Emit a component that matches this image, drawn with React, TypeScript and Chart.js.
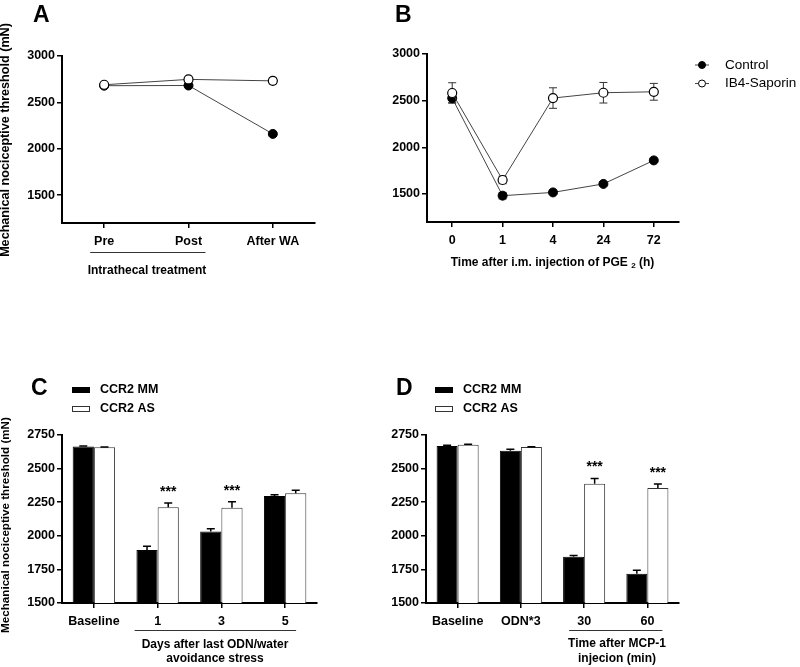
import React, { useEffect, useRef } from "react";
import { Chart, registerables } from "chart.js";

Chart.register(...registerables);

const FONT = "'Liberation Sans', Arial, Helvetica, sans-serif";

// ---------- Panel A ----------
const A_CATEGORIES = ["Pre", "Post", "After WA"];
const A_CONTROL = [2680, 2682, 2160];
const A_CONTROL_ERR = [12, 15, 20];
const A_IB4 = [2690, 2748, 2732];
const A_IB4_ERR = [12, 10, 30];
const A_YTICKS = [1500, 2000, 2500, 3000];

// ---------- Panel B ----------
const B_CATEGORIES = ["0", "1", "4", "24", "72"];
const B_CONTROL = [2527, 1482, 1517, 1608, 1860];
const B_CONTROL_ERR = [45, 35, 15, 15, 15];
const B_IB4 = [2582, 1650, 2528, 2585, 2595];
const B_IB4_ERR = [110, 40, 110, 110, 90];
const B_YTICKS = [1500, 2000, 2500, 3000];

// ---------- Panel C ----------
const C_CATEGORIES = ["Baseline", "1", "3", "5"];
const C_MM = [2665, 1895, 2032, 2296];
const C_MM_ERR = [3, 27, 20, 10];
const C_AS = [2658, 2212, 2208, 2316];
const C_AS_ERR = [3, 32, 45, 22];
const C_SIG = ["", "***", "***", ""];
const CD_YTICKS = [1500, 1750, 2000, 2250, 2500, 2750];

// ---------- Panel D ----------
const D_CATEGORIES = ["Baseline", "ODN*3", "30", "60"];
const D_MM = [2668, 2632, 1845, 1718];
const D_MM_ERR = [5, 12, 8, 25];
const D_AS = [2678, 2660, 2387, 2355];
const D_AS_ERR = [3, 3, 40, 30];
const D_SIG = ["", "", "***", "***"];

const LEGEND_LINE = ["Control", "IB4-Saporin"];
const LEGEND_BAR = ["CCR2 MM", "CCR2 AS"];
const Y_TITLE = "Mechanical nociceptive threshold (mN)";

const TICK_FONT = { family: FONT, size: 12.5, weight: "bold" };

function yAxis(min: number, max: number, ticksList: number[], width: number) {
  return {
    type: "linear",
    min,
    max,
    afterBuildTicks: (s: any) => {
      s.ticks = ticksList.map((v) => ({ value: v }));
    },
    afterFit: (s: any) => {
      s.width = width;
    },
    ticks: { color: "#000", font: TICK_FONT, padding: 2, callback: (v: any) => String(v) },
    grid: {
      display: true,
      drawOnChartArea: false,
      drawTicks: true,
      tickLength: 5,
      color: "#000",
      lineWidth: 1.5,
    },
    border: { display: true, color: "#000", width: 2 },
  };
}

function xAxis(height: number) {
  return {
    type: "category",
    offset: true,
    afterFit: (s: any) => {
      s.height = height;
    },
    ticks: {
      color: "#000",
      font: TICK_FONT,
      padding: 6,
      maxRotation: 0,
      autoSkip: false,
    },
    grid: {
      display: true,
      offset: false,
      drawOnChartArea: false,
      drawTicks: true,
      tickLength: 5,
      color: "#000",
      lineWidth: 1.5,
    },
    border: { display: true, color: "#000", width: 2 },
  };
}

function errorBarPlugin(errs: (number[] | null)[], upOnly: boolean, before: boolean, color: string, lw: number) {
  const draw = (chart: any) => {
    const ctx = chart.ctx;
    const y = chart.scales.y;
    ctx.save();
    ctx.strokeStyle = color;
    ctx.lineWidth = lw;
    errs.forEach((e, i) => {
      if (!e) return;
      const meta = chart.getDatasetMeta(i);
      const data = chart.data.datasets[i].data as number[];
      meta.data.forEach((el: any, j: number) => {
        const v = data[j];
        const x = el.x;
        const yTop = y.getPixelForValue(v + e[j]);
        const yBot = upOnly ? y.getPixelForValue(v) : y.getPixelForValue(v - e[j]);
        ctx.beginPath();
        ctx.moveTo(x, yTop);
        ctx.lineTo(x, yBot);
        ctx.moveTo(x - 4, yTop);
        ctx.lineTo(x + 4, yTop);
        if (!upOnly) {
          ctx.moveTo(x - 4, yBot);
          ctx.lineTo(x + 4, yBot);
        }
        ctx.stroke();
      });
    });
    ctx.restore();
  };
  return before
    ? { id: "errbars", beforeDatasetsDraw: draw }
    : { id: "errbars", afterDatasetsDraw: draw };
}

function overlay(draw: (chart: any, ctx: CanvasRenderingContext2D) => void) {
  return {
    id: "overlay",
    afterDraw(chart: any) {
      const ctx = chart.ctx as CanvasRenderingContext2D;
      ctx.save();
      draw(chart, ctx);
      ctx.restore();
    },
  };
}

function text(ctx: CanvasRenderingContext2D, s: string, x: number, y: number, size: number, bold: boolean, align: CanvasTextAlign = "left", baseline: CanvasTextBaseline = "middle") {
  ctx.font = `${bold ? "bold " : ""}${size}px ${FONT}`;
  ctx.fillStyle = "#000";
  ctx.textAlign = align;
  ctx.textBaseline = baseline;
  ctx.fillText(s, x, y);
}

function rotatedTitle(ctx: CanvasRenderingContext2D, s: string, cx: number, cy: number, target: number) {
  ctx.save();
  ctx.translate(cx, cy);
  ctx.rotate(-Math.PI / 2);
  ctx.font = `bold 12px ${FONT}`;
  const w = ctx.measureText(s).width;
  const size = (12 * target) / w;
  ctx.font = `bold ${size}px ${FONT}`;
  ctx.fillStyle = "#000";
  ctx.textAlign = "center";
  ctx.textBaseline = "middle";
  ctx.fillText(s, 0, 0);
  ctx.restore();
}

function hline(ctx: CanvasRenderingContext2D, x1: number, x2: number, y: number) {
  ctx.strokeStyle = "#333";
  ctx.lineWidth = 1;
  ctx.beginPath();
  ctx.moveTo(x1, y + 0.5);
  ctx.lineTo(x2, y + 0.5);
  ctx.stroke();
}

const baseOptions = (padding: any, scales: any) => ({
  responsive: false,
  animation: false,
  devicePixelRatio: 1,
  events: [],
  layout: { padding },
  plugins: { legend: { display: false }, tooltip: { enabled: false }, title: { display: false } },
  scales,
});

function lineDatasets(control: number[], ib4: number[]) {
  return [
    {
      label: LEGEND_LINE[0],
      data: control,
      borderColor: "#444",
      borderWidth: 1,
      pointRadius: 4.5,
      pointBackgroundColor: "#000",
      pointBorderColor: "#000",
      pointBorderWidth: 1,
      tension: 0,
      order: 1,
      clip: false,
    },
    {
      label: LEGEND_LINE[1],
      data: ib4,
      borderColor: "#444",
      borderWidth: 1,
      pointRadius: 4.5,
      pointBackgroundColor: "#fff",
      pointBorderColor: "#000",
      pointBorderWidth: 1.2,
      tension: 0,
      order: 0,
      clip: false,
    },
  ];
}

function barDatasets(mm: number[], as: number[]) {
  return [
    {
      label: LEGEND_BAR[0],
      data: mm,
      backgroundColor: "#000",
      borderColor: "#000",
      borderWidth: 1,
      barPercentage: 1,
      categoryPercentage: 0.665,
    },
    {
      label: LEGEND_BAR[1],
      data: as,
      backgroundColor: "#fff",
      borderColor: "#333",
      borderWidth: 1,
      barPercentage: 1,
      categoryPercentage: 0.665,
    },
  ];
}

function configA() {
  return {
    type: "line",
    data: { labels: A_CATEGORIES, datasets: lineDatasets(A_CONTROL, A_IB4) },
    options: baseOptions({ left: 0, right: 85, top: 56, bottom: 77 }, { x: xAxis(30), y: yAxis(1200, 3000, A_YTICKS, 62) }),
    plugins: [
      errorBarPlugin([A_CONTROL_ERR, A_IB4_ERR], false, true, "#333", 1),
      overlay((chart, ctx) => {
        text(ctx, "A", 33, 22, 23, true, "left", "alphabetic");
        rotatedTitle(ctx, Y_TITLE, 6, 140, 234);
        const x = chart.scales.x;
        hline(ctx, x.getPixelForValue(0) - 14, x.getPixelForValue(1) + 17, 252);
        text(ctx, "Intrathecal treatment", 147, 271, 12, true, "center");
      }),
    ],
  };
}

function configB() {
  return {
    type: "line",
    data: { labels: B_CATEGORIES, datasets: lineDatasets(B_CONTROL, B_IB4) },
    options: baseOptions({ left: 0, right: 121, top: 54, bottom: 78 }, { x: xAxis(30), y: yAxis(1200, 3000, B_YTICKS, 57) }),
    plugins: [
      errorBarPlugin([B_CONTROL_ERR, B_IB4_ERR], false, true, "#333", 1),
      overlay((chart, ctx) => {
        text(ctx, "B", 25, 22, 23, true, "left", "alphabetic");
        // x title with subscript
        const main = "Time after i.m. injection of PGE ";
        const sub = "2";
        const tail = " (h)";
        ctx.font = `bold 12px ${FONT}`;
        const w1 = ctx.measureText(main).width;
        const w3 = ctx.measureText(tail).width;
        ctx.font = `bold 8px ${FONT}`;
        const w2 = ctx.measureText(sub).width;
        const total = w1 + w2 + w3;
        const x0 = 182.5 - total / 2;
        const yb = 266;
        text(ctx, main, x0, yb, 12, true, "left", "alphabetic");
        text(ctx, sub, x0 + w1, yb + 2, 8, true, "left", "alphabetic");
        text(ctx, tail, x0 + w1 + w2, yb, 12, true, "left", "alphabetic");
        // legend
        const ly = [65, 83.5];
        ly.forEach((yy, i) => {
          ctx.strokeStyle = "#444";
          ctx.lineWidth = 1;
          ctx.beginPath();
          ctx.moveTo(325, yy);
          ctx.lineTo(339, yy);
          ctx.stroke();
          ctx.beginPath();
          ctx.arc(332, yy, 3.5, 0, Math.PI * 2);
          ctx.fillStyle = i === 0 ? "#000" : "#fff";
          ctx.fill();
          ctx.strokeStyle = "#000";
          ctx.stroke();
          text(ctx, LEGEND_LINE[i], 355, yy, 13.5, false);
        });
      }),
    ],
  };
}

function barLegend(ctx: CanvasRenderingContext2D, x: number) {
  ctx.fillStyle = "#000";
  ctx.fillRect(x, 57, 18, 6);
  ctx.fillStyle = "#fff";
  ctx.fillRect(x, 76, 18, 6);
  ctx.strokeStyle = "#333";
  ctx.lineWidth = 1;
  ctx.strokeRect(x + 0.5, 76.5, 17, 5);
  text(ctx, LEGEND_BAR[0], x + 28, 60, 12.5, true);
  text(ctx, LEGEND_BAR[1], x + 28, 79, 12.5, true);
}

function stars(chart: any, ctx: CanvasRenderingContext2D, sig: string[], as: number[], asErr: number[]) {
  const meta = chart.getDatasetMeta(1);
  const y = chart.scales.y;
  sig.forEach((s, j) => {
    if (!s) return;
    const el: any = meta.data[j];
    text(ctx, s, el.x, y.getPixelForValue(as[j] + asErr[j]) - 7, 14, true, "center", "alphabetic");
  });
}

function configC() {
  return {
    type: "bar",
    data: { labels: C_CATEGORIES, datasets: barDatasets(C_MM, C_AS) },
    options: baseOptions({ left: 0, right: 83, top: 105, bottom: 34 }, { x: xAxis(30), y: yAxis(1500, 2750, CD_YTICKS, 62) }),
    plugins: [
      errorBarPlugin([C_MM_ERR, C_AS_ERR], true, false, "#000", 1.5),
      overlay((chart, ctx) => {
        text(ctx, "C", 31, 65, 23, true, "left", "alphabetic");
        rotatedTitle(ctx, Y_TITLE, 6, 195, 216);
        barLegend(ctx, 72);
        stars(chart, ctx, C_SIG, C_AS, C_AS_ERR);
        const x = chart.scales.x;
        hline(ctx, x.getPixelForValue(1) - 23, x.getPixelForValue(3) + 11, 300);
        text(ctx, "Days after last ODN/water", 215, 315, 12, true, "center");
        text(ctx, "avoidance stress", 215, 329, 12, true, "center");
      }),
    ],
  };
}

function configD() {
  return {
    type: "bar",
    data: { labels: D_CATEGORIES, datasets: barDatasets(D_MM, D_AS) },
    options: baseOptions({ left: 0, right: 121, top: 105, bottom: 34 }, { x: xAxis(30), y: yAxis(1500, 2750, CD_YTICKS, 56) }),
    plugins: [
      errorBarPlugin([D_MM_ERR, D_AS_ERR], true, false, "#000", 1.5),
      overlay((chart, ctx) => {
        text(ctx, "D", 26, 65, 23, true, "left", "alphabetic");
        barLegend(ctx, 65);
        stars(chart, ctx, D_SIG, D_AS, D_AS_ERR);
        const x = chart.scales.x;
        hline(ctx, x.getPixelForValue(2) - 15, x.getPixelForValue(3) + 15, 300);
        text(ctx, "Time after MCP-1", 247, 314, 12, true, "center");
        text(ctx, "injecion (min)", 247, 329, 12, true, "center");
      }),
    ],
  };
}

function Panel({ left, top, width, height, make }: { left: number; top: number; width: number; height: number; make: () => any }) {
  const ref = useRef<HTMLCanvasElement>(null);
  useEffect(() => {
    const chart = new Chart(ref.current as HTMLCanvasElement, make());
    return () => chart.destroy();
  }, []);
  return (
    <div style={{ position: "absolute", left, top, width, height }}>
      <canvas ref={ref} width={width} height={height} style={{ width, height, display: "block" }} />
    </div>
  );
}

export default function App() {
  return (
    <div style={{ position: "absolute", left: 0, top: 0, width: 800, height: 667, background: "#fff", overflow: "hidden" }}>
      <Panel left={0} top={0} width={400} height={330} make={configA} />
      <Panel left={370} top={0} width={430} height={330} make={configB} />
      <Panel left={0} top={330} width={400} height={337} make={configC} />
      <Panel left={370} top={330} width={430} height={337} make={configD} />
    </div>
  );
}
